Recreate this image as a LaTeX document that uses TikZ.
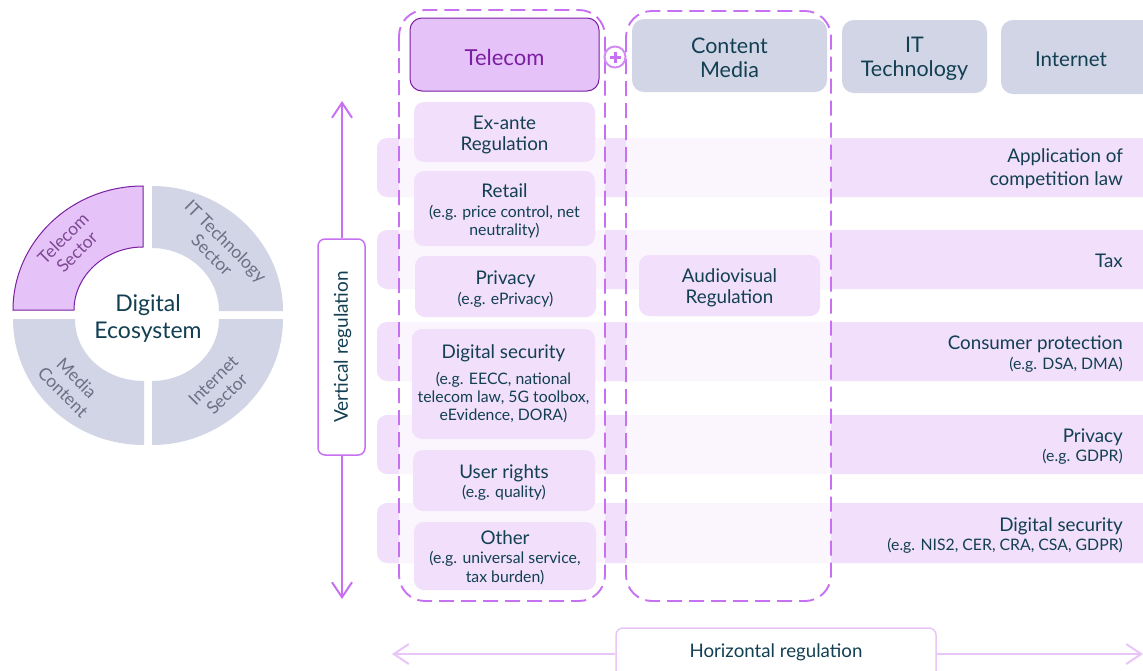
\documentclass[tikz,border=0pt]{standalone}
\usepackage{fontspec}
\setmainfont{Lato}
\usetikzlibrary{arrows.meta,positioning}
\definecolor{ink}{HTML}{123F52}
\definecolor{dashc}{HTML}{C771F2}
\definecolor{lilac}{HTML}{F2DFFB}
\definecolor{deep}{HTML}{7B1FA2}
\definecolor{mauve}{HTML}{E5C3F8}
\definecolor{slate}{HTML}{D1D5E6}
\definecolor{pale}{HTML}{E8C6F8}
\definecolor{ringtext}{HTML}{6C7084}
\newcommand{\fs}[1]{\fontsize{#1}{#1}\selectfont}
\newcommand{\bgt}[1]{{\fs{18.8}#1}}
\newcommand{\smt}[1]{{\fs{15.8}#1}}
\tikzset{
  x=1pt,y=-1pt,
  rbox/.style={rounded corners=10pt,fill=lilac,inner sep=0pt,text=ink,align=center,font=\fs{16}},
  head/.style={rounded corners=12pt,fill=slate,inner sep=0pt,text=ink,align=center,font=\fs{21.5}},
  dashcol/.style={draw=dashc,line width=1.9pt,rounded corners=26pt,dash pattern=on 15pt off 7pt,fill=white,fill opacity=.7,draw opacity=1},
  band/.style={fill=lilac},
  bandtext/.style={anchor=east,align=right,text=ink,inner sep=0pt,font=\fs{16}},
  quad/.style={fill=slate},
  ringlabel/.style={text=ringtext,align=center,font=\fs{17.5},inner sep=0pt},
  axisbox/.style={draw=dashc,line width=1.5pt,fill=white,rounded corners=7pt,inner sep=0pt,text=ink},
  vaxis/.style={draw=dashc,line width=2pt,-{Straight Barb[length=15pt,width=20pt,line width=2pt]}},
  haxis/.style={draw=pale,line width=2pt,-{Straight Barb[length=15pt,width=20pt,line width=2pt]}},
}
\newcommand{\txo}{2.5}
\newcommand{\bx}[7][rbox]{%
  \node[#1,minimum width=#5pt-#3pt,minimum height=#6pt-#4pt] (#2) at ({(#3+#5)/2},{(#4+#6)/2}) {};
  \node[#1,fill=none,draw=none,minimum width=0pt,minimum height=0pt] (#2-text) at ([yshift=-\txo pt]#2.center) {#7};}
\newcommand{\bnd}[2]{\fill[band,rounded corners=10pt] (377,#1) rectangle (1170,#2);}
\begin{document}
\begin{tikzpicture}
\useasboundingbox (0,0) rectangle (1143,670);
\clip (0,0) rectangle (1143,670);
\fill[white] (0,0) rectangle (1143,670);
% ring
\path[quad] (152,186) .. controls (223,186) and (283,242) .. (283,311) -- (219,311) .. controls (219,276) and (188,248) .. (152,248) -- cycle;
\path[quad] (283,319) .. controls (283,388) and (223,445) .. (152,445) -- (152,381) .. controls (188,381) and (219,354) .. (219,319) -- cycle;
\path[quad] (144,445) .. controls (71,445) and (13,388) .. (13,319) -- (75,319) .. controls (75,354) and (105,381) .. (144,381) -- cycle;
\path[fill=mauve,draw=deep,line width=1pt] (13,310) .. controls (13,242) and (71,186) .. (143,186) -- (143,247) .. controls (105,247) and (74,276) .. (74,310) -- cycle;
\node[ringlabel,rotate=45,text=deep!55!gray] (tsec) at (70,245) {Telecom\\[2pt]Sector};
\node[ringlabel,rotate=-45] (itsec) at (219,248) {IT Technology\\[2pt]Sector};
\node[ringlabel,rotate=-45] (mcont) at (70,385) {Media\\[2pt]Content};
\node[ringlabel,rotate=45] (isec) at (220,387) {Internet\\[2pt]Sector};
\node[text=ink,align=center,font=\fs{23},inner sep=0pt] (eco) at (148,318) {Digital\\[4pt]Ecosystem};
% bands
\bnd{138}{197}\bnd{230}{289}\bnd{322}{381}\bnd{415}{474}\bnd{503}{563}
% dashed columns
\draw[dashcol] (399,10) rectangle (605,601);
\draw[dashcol] (626,11) rectangle (831,601);
% headers
\bx[head,draw=deep,fill=mauve,line width=1pt,text=deep,font=\fs{22}]{tel}{410}{18}{599}{91}{Telecom}
\bx[head]{cont}{632}{19}{827}{92}{Content\\[2.5pt]Media}
\bx[head]{itt}{842}{20}{987}{93}{IT\\[2.5pt]Technology}
\bx[head,font=\fs{20.5}]{inet}{1001}{20}{1183}{94}{\hspace*{-42pt}\raisebox{-1pt}{Internet}}
\node[draw=dashc!80!white,line width=2pt,fill=white,circle,minimum size=21pt,inner sep=0pt] (plus) at (615,57) {};
\draw[dashc,line width=3pt] ([xshift=-5.5pt]plus.center) -- ([xshift=5.5pt]plus.center);
\draw[dashc,line width=3pt] ([yshift=-5.5pt]plus.center) -- ([yshift=5.5pt]plus.center);
% telecom boxes
\bx{exa}{414}{102}{595}{162}{\bgt{Ex-ante}\\[5pt]\bgt{Regulation}}
\bx{ret}{414}{171}{595}{246}{\bgt{Retail}\\[4pt]\smt{(e.g. price control, net}\\[2pt]\smt{neutrality)}}
\bx{pri}{415}{256}{596}{317}{\bgt{Privacy}\\[4pt]\smt{(e.g. ePrivacy)}}
\renewcommand{\txo}{0}
\bx{dig}{412}{329}{595}{439}{\bgt{Digital security}\\[10pt]\smt{(e.g. EECC, national}\\[2pt]\smt{telecom law, 5G toolbox,}\\[2pt]\smt{eEvidence, DORA)}}
\renewcommand{\txo}{2.5}
\bx{usr}{413}{450}{595}{511}{\bgt{User rights}\\[3pt]\smt{(e.g. quality)}}
\renewcommand{\txo}{1.5}
\bx{oth}{414}{522}{596}{590}{\bgt{Other}\\[3pt]\smt{(e.g. universal service,}\\[3pt]\smt{tax burden)}}
\renewcommand{\txo}{2.5}
\bx{avr}{639}{255}{820}{316}{\bgt{Audiovisual}\\[5pt]\bgt{Regulation}}
% band labels
\node[bandtext] (b1) at (1123,168.5) {\bgt{Application of}\\[5pt]\bgt{competition law}};
\node[bandtext] (b2) at (1123,261) {\bgt{Tax}};
\node[bandtext] (b3) at (1123,354.5) {\bgt{Consumer protection}\\[4pt]\smt{(e.g. DSA, DMA)}};
\node[bandtext] (b4) at (1123,446.5) {\bgt{Privacy}\\[3pt]\smt{(e.g. GDPR)}};
\node[bandtext] (b5) at (1123,536) {\bgt{Digital security}\\[3pt]\smt{(e.g. NIS2, CER, CRA, CSA, GDPR)}};
% vertical axis
\renewcommand{\txo}{0}
\bx[axisbox]{vreg}{318}{239}{365}{455}{}
\node[rotate=90,text=ink,font=\fs{19},inner sep=0pt] (vlab) at ([xshift=1pt]vreg.center) {Vertical regulation};
\coordinate (vtop) at (342,101);
\coordinate (vbot) at (342,599);
\draw[vaxis] (vreg.north -| vtop) -- (vtop);
\draw[vaxis] (vreg.south -| vbot) -- (vbot);
% horizontal axis
\bx[axisbox,draw=pale]{hreg}{616}{628}{936}{690}{}
\node[text=ink,font=\fs{18.7},inner sep=0pt] (hlab) at (776,652) {Horizontal regulation};
\coordinate (hl) at (392,654);
\coordinate (hr) at (1143,654);
\draw[haxis] (hreg.west |- hl) -- (hl);
\draw[haxis] (hreg.east |- hr) -- (hr);
\end{tikzpicture}
\end{document}
